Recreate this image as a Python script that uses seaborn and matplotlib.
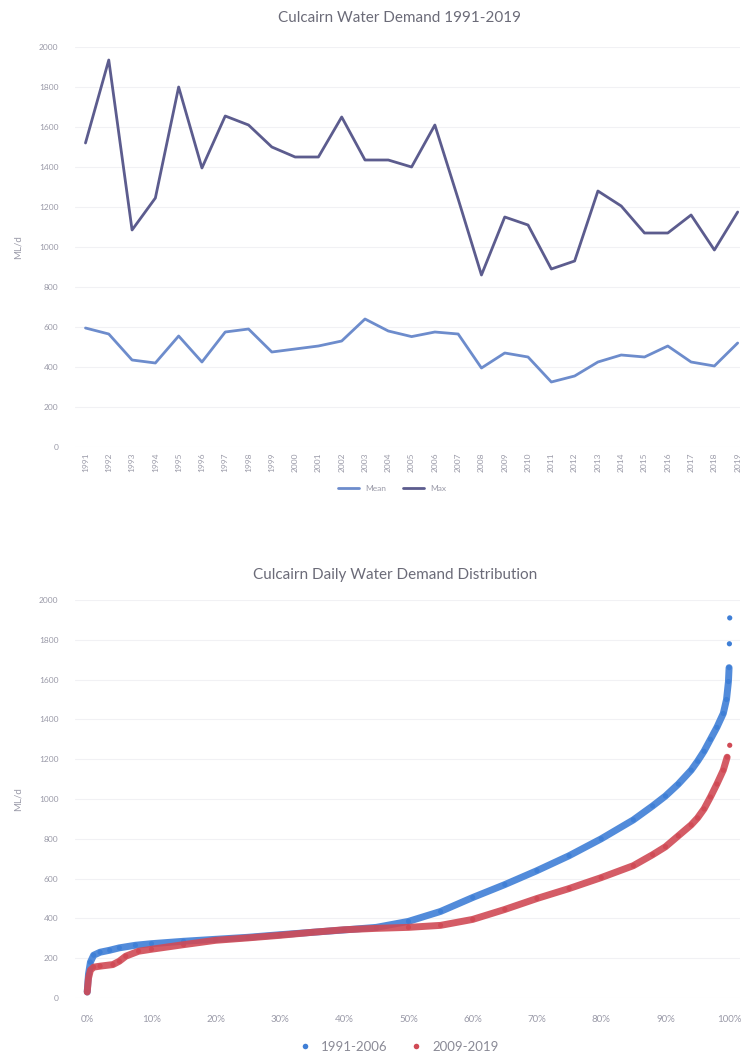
import matplotlib
matplotlib.use("Agg")
import matplotlib.pyplot as plt
import seaborn as sns
import pandas as pd
from matplotlib.lines import Line2D

# ---------------- data ----------------
years = [str(y) for y in range(1991, 2020)]
mean_demand = [595, 565, 435, 420, 555, 425, 575, 590, 475, 490, 505, 530, 640, 580, 552,
               575, 565, 395, 470, 450, 325, 355, 425, 460, 450, 505, 425, 405, 520]
max_demand = [1520, 1935, 1085, 1245, 1800, 1395, 1655, 1610, 1500, 1450, 1450, 1650, 1435, 1435, 1400,
              1610, 1240, 860, 1150, 1110, 890, 930, 1280, 1205, 1070, 1070, 1160, 985, 1175]

pct_early = [0, 0.2, 0.5, 1, 2, 3.5, 5, 7.5, 10, 15, 20, 25, 30, 35, 40, 45, 50, 55, 60, 65,
             70, 75, 80, 85, 88, 90, 92, 94, 95, 96, 97, 98, 99, 99.5, 99.8, 99.9, 99.95, 100]
val_early = [30, 120, 180, 215, 230, 240, 252, 265, 273, 285, 295, 305, 318, 330, 342, 355, 385, 435,
             505, 570, 640, 715, 800, 895, 965, 1015, 1075, 1145, 1190, 1240, 1300, 1360, 1430, 1500,
             1590, 1660, 1780, 1910]
pct_late = [0, 0.2, 0.5, 1, 2, 4, 5, 6, 8, 10, 15, 20, 25, 30, 35, 40, 45, 50, 55, 60, 65,
            70, 75, 80, 85, 88, 90, 92, 94, 95, 96, 97, 98, 99, 99.6, 100]
val_late = [30, 100, 140, 155, 160, 168, 185, 210, 235, 245, 268, 290, 302, 315, 330, 343, 350,
            355, 365, 395, 445, 500, 550, 605, 665, 720, 760, 815, 870, 905, 950, 1010, 1075, 1145,
            1210, 1270]

y_ticks = [0, 200, 400, 600, 800, 1000, 1200, 1400, 1600, 1800, 2000]
pct_ticks = [0, 10, 20, 30, 40, 50, 60, 70, 80, 90, 100]
pct_labels = [f"{p}%" for p in pct_ticks]

# ---------------- style ----------------
sns.set_theme(style="white")
plt.rcParams['font.family'] = ['Lato', 'DejaVu Sans']

W, H = 742, 1059
fig = plt.figure(figsize=(W / 100, H / 100), dpi=100)
fig.patch.set_facecolor("white")

TXT = "#9a9aa8"
TITLE = "#6b6b78"
C_MAX = "#5c5c8e"
C_MEAN = "#6d8ccc"
C_BLUE = "#3f7fd6"
C_RED = "#d04a55"
GRID = "#f1f1f4"

def px_axes(l, r, t, b):
    return fig.add_axes([l / W, 1 - b / H, (r - l) / W, (b - t) / H])

# ---------------- top chart ----------------
ax1 = px_axes(75, 740, 47, 447)
df_top = pd.DataFrame({"value": mean_demand + max_demand,
                       "series": ["Mean"] * len(years) + ["Max"] * len(years)})
df_top["x"] = list(range(len(years))) * 2
sns.lineplot(data=df_top, x="x", y="value", hue="series",
             palette={"Mean": C_MEAN, "Max": C_MAX}, linewidth=2.0, ax=ax1, legend=False)
ax1.set_xlim(-0.45, 28.1)
ax1.set_ylim(0, 2000)
ax1.set_yticks(y_ticks)
ax1.set_yticklabels([str(v) for v in y_ticks], fontsize=6, color=TXT)
ax1.set_xticks(range(len(years)))
ax1.set_xticklabels(years, rotation=90, fontsize=6, color=TXT)
ax1.tick_params(length=0, pad=12)
ax1.tick_params(axis="x", pad=4)
ax1.set_xlabel("")
ax1.set_ylabel("ML/d", fontsize=7, color=TXT, labelpad=12)
ax1.yaxis.grid(True, color=GRID, linewidth=0.8)
for s in ax1.spines.values():
    s.set_visible(False)
fig.text(400 / W, 1 - 18 / H, "Culcairn Water Demand 1991-2019", ha="center", va="center",
         fontsize=11, color=TITLE)
h1 = [Line2D([0], [0], color=C_MEAN, lw=2), Line2D([0], [0], color=C_MAX, lw=2)]
fig.legend(h1, ["Mean", "Max"], loc="center", bbox_to_anchor=(392 / W, 1 - 488 / H), ncol=2,
           frameon=False, fontsize=6, labelcolor=TXT, handlelength=2.5, columnspacing=2)

# ---------------- bottom chart ----------------
ax2 = px_axes(75, 740, 600, 998)
df_bot = pd.DataFrame({"pct": pct_early + pct_late,
                       "value": val_early + val_late,
                       "period": ["1991-2006"] * len(pct_early) + ["2009-2019"] * len(pct_late)})
pal = {"1991-2006": C_BLUE, "2009-2019": C_RED}
main = df_bot[~(((df_bot.period == "1991-2006") & (df_bot.pct >= 99.95)) |
                ((df_bot.period == "2009-2019") & (df_bot.pct >= 100)))]
sns.lineplot(data=main, x="pct", y="value", hue="period", palette=pal, linewidth=5,
             alpha=0.9, ax=ax2, legend=False)
sns.scatterplot(data=df_bot, x="pct", y="value", hue="period", palette=pal, s=14,
                edgecolor="none", ax=ax2, legend=False)
ax2.set_xlim(-1.9, 101.6)
ax2.set_ylim(0, 2000)
ax2.set_yticks(y_ticks)
ax2.set_yticklabels([str(v) for v in y_ticks], fontsize=6, color=TXT)
ax2.set_xticks(pct_ticks)
ax2.set_xticklabels(pct_labels, fontsize=7, color=TXT)
ax2.tick_params(length=0, pad=12)
ax2.tick_params(axis="x", pad=12)
ax2.set_xlabel("")
ax2.set_ylabel("ML/d", fontsize=7, color=TXT, labelpad=12)
ax2.yaxis.grid(True, color=GRID, linewidth=0.8)
for s in ax2.spines.values():
    s.set_visible(False)
fig.text(395 / W, 1 - 575 / H, "Culcairn Daily Water Demand Distribution", ha="center",
         va="center", fontsize=11, color=TITLE)
h2 = [Line2D([0], [0], marker="o", color="none", markerfacecolor=C_BLUE, markeredgecolor="none", markersize=4),
      Line2D([0], [0], marker="o", color="none", markerfacecolor=C_RED, markeredgecolor="none", markersize=4)]
fig.legend(h2, ["1991-2006", "2009-2019"], loc="center", bbox_to_anchor=(395 / W, 1 - 1047 / H),
           ncol=2, frameon=False, fontsize=9.5, labelcolor="#8a8a96", handletextpad=0.2,
           columnspacing=1.2)

fig.savefig("out.png", dpi=100, facecolor="white")
